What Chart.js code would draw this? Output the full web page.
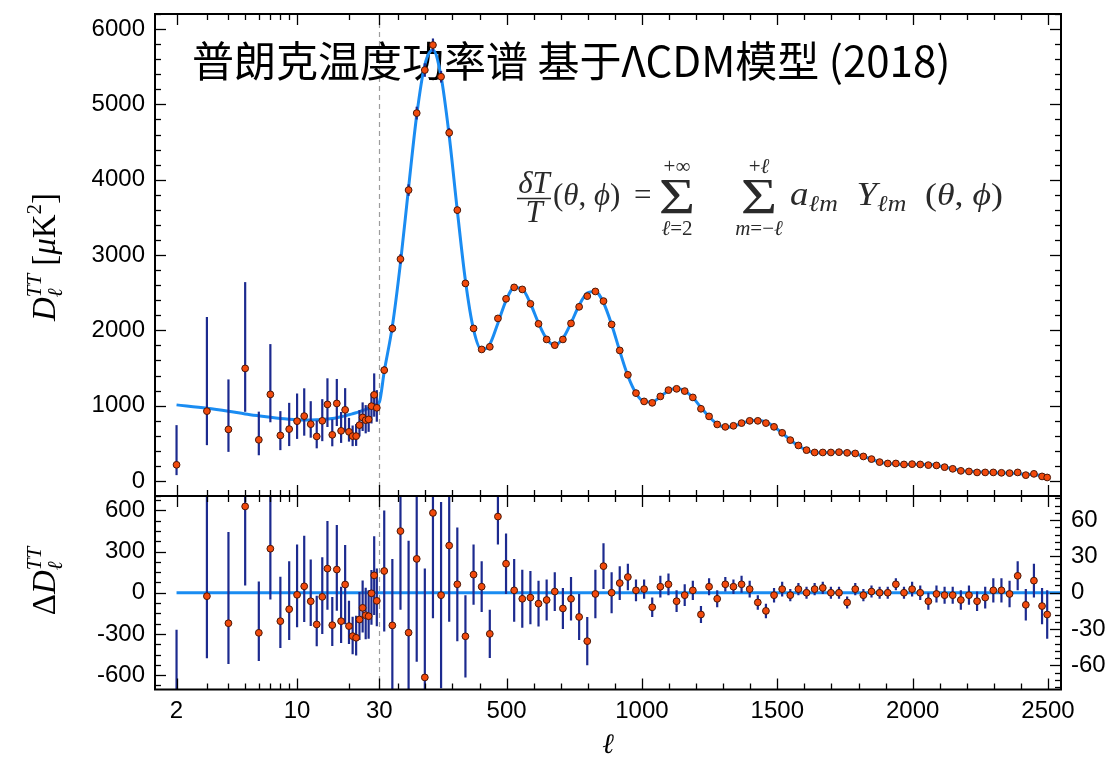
<!DOCTYPE html>
<html>
<head>
<meta charset="utf-8">
<script src="https://cdn.jsdelivr.net/npm/chart.js@4.4.1/dist/chart.umd.min.js"></script>
<style>
  html, body { margin: 0; padding: 0; background: #fff; }
  #wrap { position: relative; width: 1115px; height: 764px; overflow: hidden; background: #fff; }
  #wrap canvas { position: absolute; left: 0; }
  #spec { top: 0; width: 1115px; height: 510px; }
  #resid { top: 480px; width: 1115px; height: 284px; }
</style>
</head>
<body>
<div id="wrap">
  <canvas id="spec" width="1115" height="510"></canvas>
  <canvas id="resid" width="1115" height="284"></canvas>
</div>
<script>
// ---------------- Planck 2018 TT spectrum ----------------
// Low multipoles, one point per ℓ
const lowEll = [2,3,4,5,6,7,8,9,10,11,12,13,14,15,16,17,18,19,20,21,22,23,24,25,26,27,28,29];
const lowD = [214,927,684,1494,546,1149,604,688,794,861,754,591,798,1016,612,1029,665,944,652,595,595,741,843,807,817,993,1143,971];
const lowErrUp = [527,1250,664,1146,374,668,323,349,367,369,305,210,288,347,205,325,250,288,185,141,160,200,200,200,190,170,285,235];
const lowErrDn = [137,452,298,576,205,370,195,225,236,260,180,158,270,300,152,300,160,290,130,133,130,150,180,175,165,230,290,185];
const lowResid = [-796,-25,-222,629,-292,321,-207,-120,-15,47,-62,-231,-30,176,-236,169,-207,60,-243,-316,-328,-195,-110,-164,-171,-4,127,-59];

// High multipoles, binned (Δℓ = 30)
const highEll = [48,78,108,138,168,198,228,258,288,318,348,378,408,438,468,498,528,558,588,618,
  648,678,708,738,768,798,828,858,888,918,948,978,1008,1038,1068,1098,1128,1158,1188,1218,
  1248,1278,1308,1338,1368,1398,1428,1458,1488,1518,1548,1578,1608,1638,1668,1698,1728,1758,1788,1818,
  1848,1878,1908,1938,1968,1998,2028,2058,2088,2118,2148,2178,2208,2238,2268,2298,2328,2358,2388,2418,
  2448,2478,2497];
const highD = [1471,2025,2946,3862,4884,5456,5788,5367,4623,3596,
  2623,2025,1746,1781,2158,2418,2570,2543,2352,2086,
  1879,1803,1879,2092,2312,2454,2516,2388,2078,1733,
  1409,1166,1056,1037,1122,1206,1223,1193,1109,958,
  857,750,718,732,768,798,798,768,718,639,
  542,471,409,378,378,378,382,373,365,325,
  290,250,232,232,219,223,219,210,206,183,
  161,134,126,113,113,113,108,104,113,77,
  94,60,46];
const highSigma = [50,55,65,76,85,90,87,77,63,47,
  34,25,21,20,23,25,26,24,22,19,
  17,16,17,18,19,20,20,19,17,14,
  11,9,8,8,9,9,9,9,8,7,
  7,7,6,6,7,7,6,6,6,6,
  5,5,5,5,5,5,5,5,5,5,
  5,5,5,5,5,6,6,7,7,7,
  7,8,8,8,9,10,10,11,12,13,
  14,15,20];
const highResid = [18,-27,51,-33,28,-70,66,-2,39,7,
  -36,15,5,-34,63,24,2,-5,-4,-9,
  -6,1,-13,-5,-20,-40,-1,22,0,8,
  13,2,3,-12,5,7,-7,-2,2,-18,
  5,-5,7,5,7,3,-8,-15,-2,3,
  -2,3,0,3,4,0,0,-8,3,-2,
  1,0,0,7,0,3,0,-7,-1,-2,
  -2,-6,-2,-7,-4,2,2,-1,14,-10,
  10,-11,-18];

// Best-fit ΛCDM curve
const modelLowEll = [2,3,4,5,6,7,8,9,10,11,12,13,14,15,16,17,18,19,20,21,22,23,24,25,26,27,28,29,30];
const modelLow = [1010,965,925,890,865,845,830,820,813,810,810,812,816,822,830,840,852,865,878,892,906,920,935,950,966,982,1000,1020,1045];
const modelHigh = [1453,2052,2895,3895,4856,5526,5722,5369,4584,3589,
  2659,2010,1741,1815,2095,2394,2568,2548,2356,2095,
  1885,1802,1892,2097,2332,2494,2517,2366,2078,1725,
  1396,1164,1053,1049,1117,1199,1230,1195,1107,976,
  852,755,711,727,761,795,806,783,720,636,
  544,468,409,375,374,378,382,381,362,327,
  289,250,232,225,219,220,219,217,207,185,
  163,140,128,120,117,111,106,105,99,87,
  84,71,64];

// Axis labels
const xTickEll = [2,10,30,500,1000,1500,2000,2500];
const yTicksSpec = [0,1000,2000,3000,4000,5000,6000];
const yTicksResLow = [-600,-300,0,300,600];
const yTicksResHigh = [-60,-30,0,30,60];
const zeroLineEll = [2,2548];

// ---------------- hybrid ℓ axis: logarithmic below 30, linear above ----------------
const LOG_SPAN = 637;               // linear-ℓ units taken by one decade below ℓ = 30
function u(l) { return l >= 30 ? l : 30 - LOG_SPAN * Math.log10(30 / l); }
const X_MIN = u(1.5), X_MAX = 2548;

const CURVE = '#1a8cf2';
const DOT = '#f24a0c';
const DOT_EDGE = '#4a1606';
const BAR = '#1c2a8f';
const SERIF = '"Liberation Serif", "DejaVu Serif", serif';

Chart.defaults.font.family = '"Liberation Sans", Arial, Helvetica, sans-serif';
Chart.defaults.font.size = 24;
Chart.defaults.color = '#000';

// ---------- small text helpers ----------
function drawRuns(ctx, runs, x, y) {
  for (const r of runs) {
    ctx.font = r.f;
    if (r.sup !== undefined) {
      const w1 = ctx.measureText(r.sup).width, w2 = ctx.measureText(r.sub).width;
      ctx.fillText(r.sup, x, y + r.supDy);
      ctx.fillText(r.sub, x, y + r.subDy);
      x += Math.max(w1, w2) + (r.gap || 0);
    } else {
      ctx.fillText(r.t, x, y + (r.dy || 0));
      x += ctx.measureText(r.t).width + (r.gap || 0);
    }
  }
  return x;
}
function runsWidth(ctx, runs) {
  let w = 0;
  for (const r of runs) {
    ctx.font = r.f;
    if (r.sup !== undefined) w += Math.max(ctx.measureText(r.sup).width, ctx.measureText(r.sub).width) + (r.gap || 0);
    else w += ctx.measureText(r.t).width + (r.gap || 0);
  }
  return w;
}
const I = s => `italic ${s}px ${SERIF}`;
const R = s => `${s}px ${SERIF}`;

function drawTitle(ctx) {
  ctx.save();
  ctx.fillStyle = '#000';
  ctx.textBaseline = 'middle';
  ctx.textAlign = 'left';
  ctx.font = '42px "Noto Sans CJK SC", sans-serif';
  ctx.fillText('普朗克温度功率谱 基于ΛCDM模型 (2018)', 192, 61);
  ctx.restore();
}

function drawSigma(ctx, cx, base) {
  ctx.save();
  ctx.translate(cx, base);
  ctx.scale(1.25, 1);
  ctx.textAlign = 'center';
  ctx.font = R(50);
  ctx.fillText('Σ', 0, 0);
  ctx.restore();
}

function drawFormula(ctx) {
  ctx.save();
  ctx.fillStyle = '#2a2a2a';
  ctx.strokeStyle = '#2a2a2a';
  ctx.textBaseline = 'alphabetic';
  // δT / T
  ctx.textAlign = 'center';
  ctx.font = I(31);
  ctx.fillText('δT', 534, 193);
  ctx.fillText('T', 534, 222);
  ctx.lineWidth = 1.4;
  ctx.beginPath(); ctx.moveTo(517, 198.5); ctx.lineTo(551, 198.5); ctx.stroke();
  ctx.textAlign = 'left';
  drawRuns(ctx, [{t:'(', f:R(31)}, {t:'θ', f:I(31)}, {t:', ', f:R(31)}, {t:'ϕ', f:I(31)}, {t:')', f:R(31)}], 553, 205);
  ctx.font = R(31);
  ctx.fillText('=', 634, 205);
  // the two sums with their limits
  const sums = [
    {cx: 677, up: [{t:'+∞', f:R(21)}], lo: [{t:'ℓ', f:I(21)}, {t:'=2', f:R(21)}]},
    {cx: 759, up: [{t:'+', f:R(21)}, {t:'ℓ', f:I(21)}], lo: [{t:'m', f:I(21)}, {t:'=−', f:R(21)}, {t:'ℓ', f:I(21)}]}
  ];
  for (const s of sums) {
    drawSigma(ctx, s.cx, 213);
    ctx.textAlign = 'left';
    drawRuns(ctx, s.up, s.cx - runsWidth(ctx, s.up) / 2, 173);
    drawRuns(ctx, s.lo, s.cx - runsWidth(ctx, s.lo) / 2, 235);
  }
  // a_ℓm Y_ℓm (θ, ϕ), stretched slightly to span up to x = 1003
  const tail = [
    {t:'a', f:I(33)}, {t:'ℓm', f:I(23), dy:6},
    {t:'Y', f:I(33)}, {t:'ℓm', f:I(23), dy:6},
    {t:'(', f:R(32)}, {t:'θ', f:I(32)}, {t:', ', f:R(32)}, {t:'ϕ', f:I(32)}, {t:')', f:R(32)}
  ];
  const sx = 1.12;
  const extra = Math.max(0, 213 / sx - runsWidth(ctx, tail));
  tail[1].gap = extra * 0.5;
  tail[3].gap = extra * 0.5;
  ctx.translate(790, 205);
  ctx.scale(sx, 1);
  drawRuns(ctx, tail, 0, 0);
  ctx.restore();
}

function drawYTitle(ctx, runs, baseX, centerY) {
  ctx.save();
  ctx.fillStyle = '#000';
  ctx.textBaseline = 'alphabetic';
  ctx.textAlign = 'left';
  ctx.translate(baseX, centerY);
  ctx.rotate(-Math.PI / 2);
  drawRuns(ctx, runs, -runsWidth(ctx, runs) / 2, 0);
  ctx.restore();
}

// ---------- frame, tick marks, divider, error bars ----------
function minorX() {
  const m = [3,4,5,6,7,8,9,20];
  for (let l = 100; l < X_MAX; l += 100) if (l % 500) m.push(l);
  return m;
}
function stepped(lo, hi, step) {
  const out = [];
  for (let v = lo; v <= hi + 1e-9; v += step) out.push(v);
  return out;
}

const deco = {
  id: 'deco',
  beforeDatasetsDraw(chart, args, opts) {
    const {ctx, chartArea: a} = chart;
    const px = Math.round(chart.scales.x.getPixelForValue(u(30))) + 0.5;
    ctx.save();
    ctx.strokeStyle = '#9c9c9c';
    ctx.lineWidth = 1.2;
    ctx.setLineDash([5, 4]);
    ctx.beginPath(); ctx.moveTo(px, a.top); ctx.lineTo(px, a.bottom); ctx.stroke();
    ctx.restore();
    if (opts.panel === 'spec') drawTitle(ctx);
  },
  beforeDatasetDraw(chart, args) {
    const ds = chart.data.datasets[args.index];
    if (!ds.errUp) return;
    const {ctx, chartArea: a} = chart;
    const ys = chart.scales[args.meta.yAxisID];
    ctx.save();
    ctx.beginPath(); ctx.rect(a.left, a.top, a.right - a.left, a.bottom - a.top); ctx.clip();
    ctx.strokeStyle = BAR;
    ctx.lineWidth = 2.2;
    ds.data.forEach((p, i) => {
      const x = args.meta.data[i].x;
      ctx.beginPath();
      ctx.moveTo(x, ys.getPixelForValue(p.y + ds.errUp[i]));
      ctx.lineTo(x, ys.getPixelForValue(p.y - ds.errDn[i]));
      ctx.stroke();
    });
    ctx.restore();
  },
  afterDraw(chart, args, opts) {
    const {ctx, chartArea: a} = chart;
    const xs = chart.scales.x;
    ctx.save();
    ctx.strokeStyle = '#000';
    ctx.lineWidth = 1.3;
    const seg = (x1, y1, x2, y2) => { ctx.beginPath(); ctx.moveTo(x1, y1); ctx.lineTo(x2, y2); ctx.stroke(); };
    const vmark = (l, len) => {
      const p = Math.round(xs.getPixelForValue(u(l))) + 0.5;
      if (p < a.left || p > a.right) return;
      seg(p, a.bottom, p, a.bottom - len);
      seg(p, a.top, p, a.top + len);
    };
    xTickEll.forEach(l => vmark(l, 11));
    minorX().forEach(l => vmark(l, 6));
    const hmark = (scale, v, len, sides) => {
      const p = Math.round(scale.getPixelForValue(v)) + 0.5;
      if (p < a.top - 0.5 || p > a.bottom + 0.5) return;
      if (sides.includes('l')) seg(a.left, p, a.left + len, p);
      if (sides.includes('r')) seg(a.right, p, a.right - len, p);
    };
    if (opts.panel === 'spec') {
      const ys = chart.scales.y;
      yTicksSpec.forEach(v => hmark(ys, v, 11, 'lr'));
      stepped(-200, 6200, 200).filter(v => v % 1000).forEach(v => hmark(ys, v, 6, 'lr'));
    } else {
      const yl = chart.scales.yL, yr = chart.scales.yR;
      yTicksResLow.forEach(v => hmark(yl, v, 11, 'l'));
      stepped(-675, 675, 75).filter(v => v % 300).forEach(v => hmark(yl, v, 6, 'l'));
      yTicksResHigh.forEach(v => hmark(yr, v, 11, 'r'));
      stepped(-78, 78, 6).filter(v => v % 30).forEach(v => hmark(yr, v, 6, 'r'));
    }
    ctx.lineWidth = 2;
    ctx.strokeRect(a.left, a.top, a.right - a.left, a.bottom - a.top);
    ctx.restore();

    if (opts.panel === 'spec') {
      drawFormula(ctx);
      drawYTitle(ctx, [
        {t:'D', f:I(33)},
        {sup:'TT', sub:'ℓ', f:I(21), supDy:-14, subDy:7, gap:8},
        {t:'[', f:R(33)}, {t:'μ', f:I(33)}, {t:'K', f:R(33)}, {t:'2', f:R(21), dy:-14}, {t:']', f:R(33)}
      ], 55, 257);
    } else {
      drawYTitle(ctx, [
        {t:'Δ', f:R(33)}, {t:'D', f:I(33)},
        {sup:'TT', sub:'ℓ', f:I(21), supDy:-14, subDy:7}
      ], 55, 101);
      ctx.save();
      ctx.fillStyle = '#000';
      ctx.textAlign = 'center';
      ctx.textBaseline = 'alphabetic';
      ctx.font = I(28);
      ctx.fillText('ℓ', (a.left + a.right) / 2, 273);
      ctx.restore();
    }
  }
};

// ---------- datasets built from the arrays ----------
const pts = (ells, vals) => ells.map((l, i) => ({x: u(l), y: vals[i]}));
const modelEll = modelLowEll.concat(highEll);
const modelAll = modelLow.concat(modelHigh);
const dotStyle = {
  showLine: false, pointRadius: 3.4, pointBorderWidth: 1,
  pointBackgroundColor: DOT, pointBorderColor: DOT_EDGE, pointHoverRadius: 3.4
};
const yLabel = v => String(v);
const fixedTicks = arr => s => { s.ticks = arr.map(v => ({value: v})); };
const hiddenGrid = {display: false, drawTicks: false};
const fitY = w => s => { s.width = w; s.paddingTop = 0; s.paddingBottom = 0; };

new Chart(document.getElementById('spec'), {
  type: 'scatter',
  data: {
    datasets: [
      Object.assign({
        label: 'Planck 2018',
        data: pts(lowEll.concat(highEll), lowD.concat(highD)),
        errUp: lowErrUp.concat(highSigma),
        errDn: lowErrDn.concat(highSigma),
        order: 0
      }, dotStyle),
      {
        label: 'ΛCDM',
        data: pts(modelEll, modelAll),
        showLine: true, borderColor: CURVE, borderWidth: 3, pointRadius: 0,
        cubicInterpolationMode: 'monotone', order: 1
      }
    ]
  },
  options: {
    responsive: false, animation: false, events: [],
    layout: {padding: {top: 14, bottom: 14, left: 0, right: 54}},
    plugins: {legend: {display: false}, tooltip: {enabled: false}, deco: {panel: 'spec'}},
    scales: {
      x: {type: 'linear', min: X_MIN, max: X_MAX, display: false},
      y: {
        type: 'linear', position: 'left', min: -200, max: 6200,
        afterBuildTicks: fixedTicks(yTicksSpec),
        afterFit: fitY(155),
        grid: hiddenGrid, border: {display: false},
        ticks: {padding: 10, callback: yLabel}
      }
    }
  },
  plugins: [deco]
});

new Chart(document.getElementById('resid'), {
  type: 'scatter',
  data: {
    datasets: [
      Object.assign({
        label: 'ΔD ℓ<30', data: pts(lowEll, lowResid), yAxisID: 'yL',
        errUp: lowErrUp, errDn: lowErrDn, order: 0
      }, dotStyle),
      Object.assign({
        label: 'ΔD ℓ≥30', data: pts(highEll, highResid), yAxisID: 'yR',
        errUp: highSigma, errDn: highSigma, order: 1
      }, dotStyle),
      {
        label: 'zero', data: pts(zeroLineEll, [0, 0]), yAxisID: 'yL',
        showLine: true, borderColor: CURVE, borderWidth: 3.2, pointRadius: 0, order: 2
      }
    ]
  },
  options: {
    responsive: false, animation: false, events: [],
    layout: {padding: {top: 16, bottom: 0, left: 0, right: 0}},
    plugins: {legend: {display: false}, tooltip: {enabled: false}, deco: {panel: 'resid'}},
    scales: {
      x: {
        type: 'linear', position: 'bottom', min: X_MIN, max: X_MAX,
        afterBuildTicks: s => { s.ticks = xTickEll.map(l => ({value: u(l)})); },
        afterFit: s => { s.height = 74.5; s.paddingLeft = 0; s.paddingRight = 0; },
        grid: hiddenGrid, border: {display: false},
        ticks: {padding: 7, maxRotation: 0, autoSkip: false, callback: (v, i) => String(xTickEll[i])}
      },
      yL: {
        type: 'linear', position: 'left', min: -705, max: 705,
        afterBuildTicks: fixedTicks(yTicksResLow),
        afterFit: fitY(155),
        grid: hiddenGrid, border: {display: false},
        ticks: {padding: 10, callback: yLabel}
      },
      yR: {
        type: 'linear', position: 'right', min: -80, max: 80,
        afterBuildTicks: fixedTicks(yTicksResHigh),
        afterFit: fitY(54),
        grid: hiddenGrid, border: {display: false},
        ticks: {padding: 10, callback: yLabel}
      }
    }
  },
  plugins: [deco]
});
</script>
</body>
</html>
